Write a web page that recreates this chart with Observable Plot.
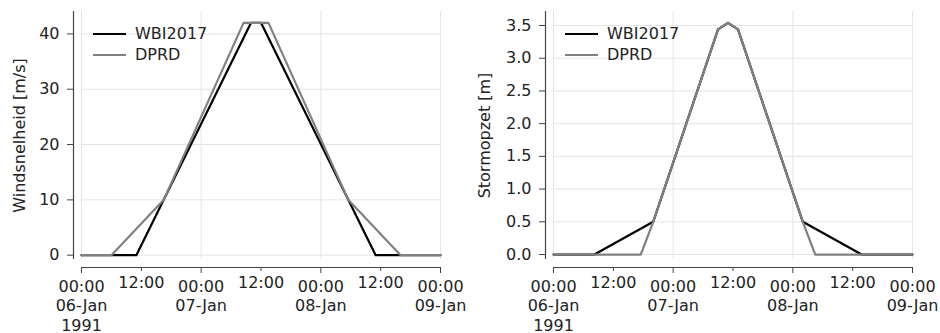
<!DOCTYPE html>
<html>
<head>
<meta charset="utf-8">
<script src="https://cdn.jsdelivr.net/npm/d3@7"></script>
<script src="https://cdn.jsdelivr.net/npm/@observablehq/plot@0.6"></script>
<style>
  body { margin: 0; background: white; }
  #wrap { display: flex; width: 940px; height: 333px; }
  .panel { position: relative; width: 470px; height: 333px; }
  .legend { position: absolute; font-family: "DejaVu Sans", sans-serif; font-size: 16px; color: #222; }
  .legend .row { position: relative; height: 20.5px; line-height: 20.5px; white-space: nowrap; }
  .legend .swatch { position: absolute; left: 0; top: 9px; width: 33px; height: 2.2px; }
  .legend .lab { position: absolute; left: 42px; top: 0; }
</style>
</head>
<body>
<div id="wrap"></div>
<script>
// ---- data (hours after 1991-01-06 00:00) ----
const seriesNames = ["WBI2017", "DPRD"];
const seriesColors = ["#000000", "#808080"];

const windWBIHours  = [0, 11, 34, 36, 59, 72];
const windWBIValues = [0, 0, 42, 42, 0, 0];
const windDPRDHours  = [0, 6, 16.5, 32.5, 37.5, 53.5, 64, 72];
const windDPRDValues = [0, 0, 10, 42, 42, 10, 0, 0];

const surgeWBIHours  = [0, 8.2, 20, 33, 35, 37, 50, 61.8, 72];
const surgeWBIValues = [0, 0, 0.5, 3.44, 3.54, 3.44, 0.5, 0, 0];
const surgeDPRDHours  = [0, 17.5, 20, 33, 35, 37, 50, 52.5, 72];
const surgeDPRDValues = [0, 0, 0.5, 3.44, 3.54, 3.44, 0.5, 0, 0];

const windYTicks = [0, 10, 20, 30, 40];
const surgeYTicks = [0, 0.5, 1.0, 1.5, 2.0, 2.5, 3.0, 3.5];

const majorTickHours = [0, 24, 48, 72];
const majorTickLabels = ["00:00\n06-Jan\n1991", "00:00\n07-Jan", "00:00\n08-Jan", "00:00\n09-Jan"];
const minorTickHours = [12, 36, 60];
const minorTickLabels = ["12:00", "12:00", "12:00"];

const windLabel = "Windsnelheid [m/s]";
const surgeLabel = "Stormopzet [m]";

// ---- helpers ----
const start = Date.UTC(1991, 0, 6);
const toDate = h => new Date(start + h * 3600e3);
const majorDates = majorTickHours.map(toDate);
const minorDates = minorTickHours.map(toDate);
const labelMap = new Map();
majorDates.forEach((d, i) => labelMap.set(+d, majorTickLabels[i]));
minorDates.forEach((d, i) => labelMap.set(+d, minorTickLabels[i]));

function rowsFor(hours, values, name) {
  return hours.map((h, i) => ({t: toDate(h), v: values[i], s: name}));
}

function makePanel(opt) {
  const rows = [
    ...rowsFor(opt.wbiH, opt.wbiV, seriesNames[0]),
    ...rowsFor(opt.dprdH, opt.dprdV, seriesNames[1])
  ];
  const grid = "#e4e4e4";
  const spine = "#444";
  const chart = Plot.plot({
    width: 470,
    height: 333,
    marginLeft: opt.ml,
    marginRight: opt.mr,
    marginTop: 11,
    marginBottom: 74,
    style: {fontFamily: "DejaVu Sans, sans-serif", fontSize: "16px", color: "#222", background: "white", overflow: "visible"},
    x: {type: "utc", domain: [toDate(0), toDate(72)]},
    y: {domain: opt.yDomain},
    color: {domain: seriesNames, range: seriesColors},
    marks: [
      Plot.gridY(opt.yTicks, {stroke: grid, strokeOpacity: 1, strokeWidth: 1}),
      Plot.gridX(majorDates, {stroke: grid, strokeOpacity: 1, strokeWidth: 1}),
      Plot.ruleX([toDate(0)], {dx: -8, stroke: spine, strokeWidth: 1.2}),
      Plot.ruleY([opt.yDomain[0]], {dy: 8, stroke: spine, strokeWidth: 1.2}),
      Plot.axisY(opt.yTicks, {
        dx: -8, tickSize: 6, tickPadding: 8, stroke: spine,
        tickFormat: opt.yFmt,
        label: opt.yLabel, labelAnchor: "center", labelArrow: "none", labelOffset: opt.labelOffset
      }),
      Plot.axisX(majorDates, {
        dy: 8, tickSize: 6, tickPadding: 5, stroke: spine,
        tickFormat: d => labelMap.get(+d), lineHeight: 1.2, label: null
      }),
      Plot.axisX(minorDates, {
        dy: 8, tickSize: 4, tickPadding: 5, stroke: spine,
        tickFormat: d => labelMap.get(+d), label: null
      }),
      Plot.line(rows, {x: "t", y: "v", z: "s", stroke: "s", strokeWidth: 2.2})
    ]
  });
  const panel = document.createElement("div");
  panel.className = "panel";
  panel.appendChild(chart);
  const legend = document.createElement("div");
  legend.className = "legend";
  legend.style.left = (opt.ml + 12) + "px";
  legend.style.top = "24px";
  seriesNames.forEach((name, i) => {
    const row = document.createElement("div");
    row.className = "row";
    const sw = document.createElement("span");
    sw.className = "swatch";
    sw.style.background = seriesColors[i];
    const lab = document.createElement("span");
    lab.className = "lab";
    lab.textContent = name;
    row.appendChild(sw);
    row.appendChild(lab);
    legend.appendChild(row);
  });
  panel.appendChild(legend);
  return panel;
}

const wrap = document.getElementById("wrap");
wrap.appendChild(makePanel({
  wbiH: windWBIHours, wbiV: windWBIValues,
  dprdH: windDPRDHours, dprdV: windDPRDValues,
  yDomain: [-0.78, 44.05], yTicks: windYTicks, yFmt: d => d3.format("d")(d),
  yLabel: windLabel, ml: 81, mr: 30, labelOffset: 68
}));
wrap.appendChild(makePanel({
  wbiH: surgeWBIHours, wbiV: surgeWBIValues,
  dprdH: surgeDPRDHours, dprdV: surgeDPRDValues,
  yDomain: [-0.076, 3.714], yTicks: surgeYTicks, yFmt: d => d3.format(".1f")(d),
  yLabel: surgeLabel, ml: 83, mr: 28, labelOffset: 75
}));
</script>
</body>
</html>
